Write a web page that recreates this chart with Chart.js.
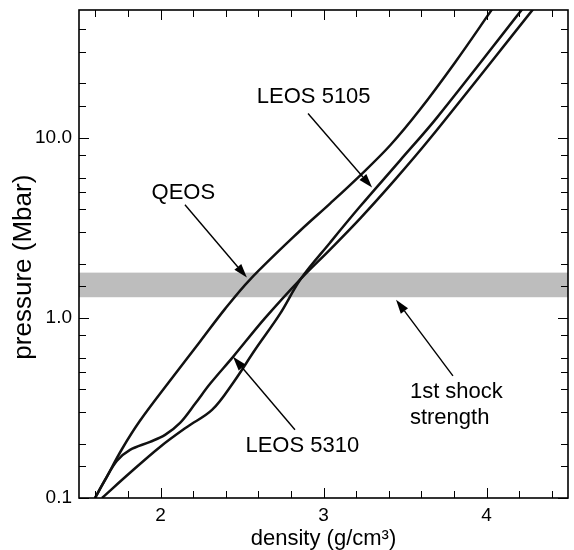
<!DOCTYPE html>
<html>
<head>
<meta charset="utf-8">
<script src="https://cdn.jsdelivr.net/npm/chart.js@4.4.0/dist/chart.umd.min.js"></script>
<style>
html, body { margin: 0; padding: 0; background: #fff; }
</style>
</head>
<body>
<canvas id="graficoEos" width="574" height="550"></canvas>
<script>
// densidade (g/cm3) e pressao (Mbar)
const densQeos = [1.598, 1.660, 1.764, 1.874, 2.058, 2.242, 2.396, 2.549, 2.856, 3.040, 3.224, 3.408, 3.592, 3.807, 4.034];
const presQeos = [0.100, 0.126, 0.187, 0.268, 0.447, 0.736, 1.12, 1.63, 3.04, 4.30, 6.15, 9.03, 14.3, 26.1, 51.4];

const dens5105 = [1.641, 1.813, 1.997, 2.163, 2.316, 2.445, 2.580, 2.733, 2.862, 3.040, 3.224, 3.469, 3.696, 4.218];
const pres5105 = [0.100, 0.138, 0.192, 0.248, 0.308, 0.435, 0.664, 1.05, 1.65, 2.61, 4.14, 7.45, 12.9, 51.4];

const dens5310 = [1.598, 1.660, 1.733, 1.813, 1.936, 2.028, 2.120, 2.212, 2.304, 2.445, 2.641, 2.862, 3.040, 3.224, 3.439, 3.653, 4.285];
const pres5310 = [0.100, 0.126, 0.161, 0.185, 0.205, 0.224, 0.261, 0.333, 0.430, 0.607, 0.995, 1.65, 2.39, 3.55, 5.84, 9.87, 51.4];

// faixa do primeiro choque (Mbar)
const bandLow = 1.3;
const bandHigh = 1.78;

const xTicksMajor = [2, 3, 4];
const xTicksMinor = [1.6, 1.8, 2.2, 2.4, 2.6, 2.8, 3.2, 3.4, 3.6, 3.8, 4.2, 4.4];
const yTicksMajor = [0.1, 1, 10];
const yTicksMinor = [0.15, 0.2, 0.3, 0.4, 0.5, 0.6, 0.8, 1.5, 2, 3, 4, 5, 6, 8, 15, 20, 30, 40];

const fonte = 'Liberation Sans, Arial, Helvetica, sans-serif';

// textos e setas em coordenadas de dados
const textos = [
    { text: 'QEOS', x: 2.14, y: 4.95, align: 'center' },
    { text: 'LEOS 5105', x: 2.94, y: 16.9, align: 'center' },
    { text: 'LEOS 5310', x: 2.87, y: 0.195, align: 'center' },
    { text: '1st shock', x: 3.53, y: 0.388, align: 'left' },
    { text: 'strength', x: 3.53, y: 0.278, align: 'left' }
];
const setas = [
    { de: [2.15, 4.24], para: [2.53, 1.67] },
    { de: [2.905, 13.6], para: [3.298, 5.28] },
    { de: [2.825, 0.239], para: [2.445, 0.607] },
    { de: [3.794, 0.476], para: [3.445, 1.259] }
];

const pontos = (xs, ys) => xs.map((v, i) => ({ x: v, y: ys[i] }));

const decoracao = {
    id: 'decoracao',
    beforeDatasetsDraw(chart) {
        const { ctx, chartArea: a, scales: { x, y } } = chart;
        const yt = y.getPixelForValue(bandHigh);
        const yb = y.getPixelForValue(bandLow);
        ctx.save();
        ctx.fillStyle = '#bdbdbd';
        ctx.fillRect(a.left, yt, a.right - a.left, yb - yt);
        ctx.restore();
    },
    afterDraw(chart) {
        const { ctx, chartArea: a, scales: { x, y } } = chart;
        ctx.save();
        ctx.strokeStyle = '#000';
        ctx.lineWidth = 1;
        ctx.beginPath();
        const marcaX = (v, len) => {
            const px = Math.round(x.getPixelForValue(v)) + 0.5;
            ctx.moveTo(px, a.bottom); ctx.lineTo(px, a.bottom - len);
            ctx.moveTo(px, a.top); ctx.lineTo(px, a.top + len);
        };
        const marcaY = (v, len) => {
            const py = Math.round(y.getPixelForValue(v)) + 0.5;
            ctx.moveTo(a.left, py); ctx.lineTo(a.left + len, py);
            ctx.moveTo(a.right, py); ctx.lineTo(a.right - len, py);
        };
        xTicksMajor.forEach(v => marcaX(v, 10));
        xTicksMinor.forEach(v => marcaX(v, 7));
        yTicksMajor.forEach(v => marcaY(v, 10));
        yTicksMinor.forEach(v => marcaY(v, 7));
        ctx.stroke();

        ctx.lineWidth = 1.6;
        ctx.strokeRect(a.left, a.top, a.right - a.left, a.bottom - a.top);

        // setas
        ctx.fillStyle = '#000';
        ctx.lineWidth = 1.4;
        setas.forEach(s => {
            const x0 = x.getPixelForValue(s.de[0]), y0 = y.getPixelForValue(s.de[1]);
            const x1 = x.getPixelForValue(s.para[0]), y1 = y.getPixelForValue(s.para[1]);
            const ang = Math.atan2(y1 - y0, x1 - x0);
            const L = 14, W = 4.5;
            const bx = x1 - L * Math.cos(ang), by = y1 - L * Math.sin(ang);
            ctx.beginPath();
            ctx.moveTo(x0, y0);
            ctx.lineTo(bx, by);
            ctx.stroke();
            ctx.beginPath();
            ctx.moveTo(x1, y1);
            ctx.lineTo(bx + W * Math.sin(ang), by - W * Math.cos(ang));
            ctx.lineTo(bx - W * Math.sin(ang), by + W * Math.cos(ang));
            ctx.closePath();
            ctx.fill();
        });

        // textos
        ctx.font = '22px ' + fonte;
        ctx.textBaseline = 'middle';
        textos.forEach(t => {
            ctx.textAlign = t.align;
            ctx.fillText(t.text, x.getPixelForValue(t.x), y.getPixelForValue(t.y));
        });

        // titulo do eixo y
        ctx.translate(24, a.top + (a.bottom - a.top) * 0.527);
        ctx.rotate(-Math.PI / 2);
        ctx.textAlign = 'center';
        ctx.font = '26px ' + fonte;
        ctx.fillText('pressure (Mbar)', 0, 0);
        ctx.restore();
    }
};

const estiloLinha = {
    borderColor: '#111',
    borderWidth: 2.5,
    pointRadius: 0,
    fill: false,
    tension: 0.35
};

const ctx = document.getElementById('graficoEos').getContext('2d');
const chart = new Chart(ctx, {
    type: 'line',
    data: {
        datasets: [
            { label: 'QEOS', data: pontos(densQeos, presQeos), ...estiloLinha },
            { label: 'LEOS 5105', data: pontos(dens5105, pres5105), ...estiloLinha },
            { label: 'LEOS 5310', data: pontos(dens5310, pres5310), ...estiloLinha }
        ]
    },
    options: {
        responsive: false,
        animation: false,
        devicePixelRatio: 1,
        layout: { padding: { top: 10, right: 6, left: 0, bottom: 0 } },
        scales: {
            x: {
                type: 'linear',
                min: 1.5,
                max: 4.5,
                afterBuildTicks: s => { s.ticks = xTicksMajor.map(v => ({ value: v })); },
                afterFit: s => { s.height = 52; s.paddingLeft = 0; s.paddingRight = 0; },
                grid: { display: false, drawTicks: false },
                border: { display: false },
                ticks: {
                    color: '#000',
                    padding: 6,
                    maxRotation: 0,
                    autoSkip: false,
                    font: { size: 19, family: fonte },
                    callback: v => String(v)
                },
                title: {
                    display: true,
                    text: 'density (g/cm³)',
                    color: '#000',
                    font: { size: 22, family: fonte, lineHeight: 1 },
                    padding: { top: 0, bottom: 0 }
                }
            },
            y: {
                type: 'logarithmic',
                min: 0.1,
                max: 51,
                afterBuildTicks: s => { s.ticks = yTicksMajor.map(v => ({ value: v })); },
                afterFit: s => { s.width = 79; s.paddingTop = 0; s.paddingBottom = 0; },
                grid: { display: false, drawTicks: false },
                border: { display: false },
                ticks: {
                    color: '#000',
                    padding: 7,
                    autoSkip: false,
                    font: { size: 19, family: fonte },
                    callback: v => Number(v).toFixed(1)
                }
            }
        },
        plugins: {
            legend: { display: false },
            tooltip: { enabled: false }
        }
    },
    plugins: [decoracao]
});
</script>
</body>
</html>
